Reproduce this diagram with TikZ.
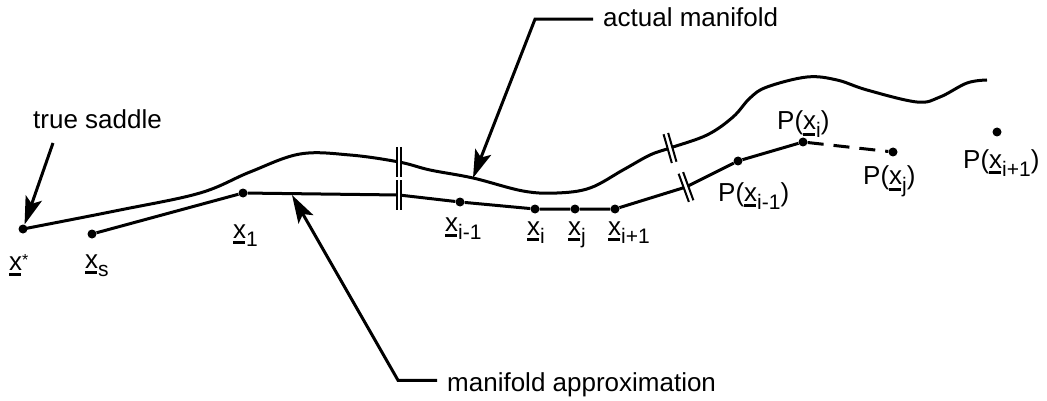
\documentclass[tikz,border=0pt]{standalone}
\usepackage{fontspec}
\setmainfont{Liberation Sans}
\usetikzlibrary{positioning, arrows.meta}

% underlined x with a lowered index
\newcommand{\ux}{\makebox[0pt][l]{\rule[-6pt]{12pt}{2.6pt}}x}
\newcommand{\vsub}[1]{\raisebox{-8pt}{\fontsize{21}{21}\selectfont #1}}
\newcommand{\vx}[1]{\ux\vsub{#1}}

\begin{document}
\begin{tikzpicture}[
  x=1pt, y=-1pt,
  font=\fontsize{26}{30}\selectfont,
  curve/.style={line width=3pt, line join=round},
  dot/.style={circle, fill, inner sep=0pt, minimum size=9pt},
  lbl/.style={anchor=base west, inner sep=0pt},
  txt/.style={anchor=base west, inner sep=0pt},
  arr/.style={-{Stealth[length=28pt, width=17pt, inset=6pt]}, line width=3pt},
  brk/.pic={
    \fill[white] (-2.4,-15) rectangle (2.4,15);
    \draw[line width=2pt] (-2.4,-15) -- (-2.4,15) (2.4,-15) -- (2.4,15);
  },
]
  \useasboundingbox (0,0) rectangle (1047,401);

  % actual manifold
  \draw[curve] plot[smooth, tension=0.6] coordinates {
    (23,229) (120,210) (200,193) (250,172) (300,154) (350,155) (399,162)
    (430,170) (473,178) (523,191) (557,193) (590,188) (623,170) (650,155)
    (670,148) (707,135) (733,117) (750,98) (767,87) (807,77) (837,80)
    (867,90) (917,102) (940,97) (967,83) (987,80)};

  % points
  \node[dot] (xstar) at (23,229) {};
  \node[dot] (xs)    at (92,234) {};
  \node[dot] (x1)    at (243,193) {};
  \node[dot] (xim)   at (460,202) {};
  \node[dot] (xi)    at (535,209) {};
  \node[dot] (xj)    at (575,209) {};
  \node[dot] (xip)   at (615,209) {};
  \node[dot] (pxim)  at (738,161) {};
  \node[dot] (pxi)   at (803,142) {};
  \node[dot] (pxj)   at (893,152) {};
  \node[dot] (pxip)  at (997,132) {};
  \coordinate (bl) at (399,195);
  \coordinate (br) at (686,187);

  % manifold approximation
  \draw[curve] (xs) -- (x1) -- (bl) -- (xim) -- (xi) -- (xj) -- (xip)
    -- (br) -- (pxim) -- (pxi);
  \draw[curve, dash pattern=on 16pt off 10pt] (pxi) -- (pxj);

  % breaks
  \pic at (399,162) {brk};
  \pic at (bl) {brk};
  \pic[rotate=16] at (670,148) {brk};
  \pic[rotate=20] at (br) {brk};

  % point labels
  \node[lbl] (lxstar) at (9,270) {\ux\raisebox{5pt}{\fontsize{16}{16}\selectfont *}};
  \node[lbl] (lxs)   at (85,268)  {\vx{s}};
  \node[lbl] (lx1)   at (233,238) {\vx{1}};
  \node[lbl] (lxim)  at (445,231) {\vx{i-1}};
  \node[lbl] (lxi)   at (527,235) {\vx{i}};
  \node[lbl] (lxj)   at (568,235) {\vx{j}};
  \node[lbl] (lxip)  at (608,235) {\vx{i+1}};
  \node[lbl] (lpxim) at (718,201) {P(\vx{i-1})};
  \node[lbl] (lpxi)  at (777,130) {P(\vx{i})};
  \node[lbl] (lpxj)  at (863,185) {P(\vx{j})};
  \node[lbl] (lpxip) at (963,168) {P(\vx{i+1})};

  % callouts
  \node[txt] (tsad)    at (33,129)  {true saddle};
  \node[txt] (amani)   at (603,27)  {actual manifold};
  \node[txt] (mapprox) at (447,391) {manifold approximation};
  \coordinate (tsadt) at (53,143);
  \coordinate (amtip) at (473,178);
  \coordinate (matip) at (292,195);

  \draw[arr] (tsadt) -- (xstar);
  \draw[arr, line join=miter] ([xshift=-10pt, yshift=-1.5pt]amani.west) -- ++(-58,0) -- (amtip);
  \draw[arr, line join=miter] ([xshift=-10pt, yshift=4pt]mapprox.west) -- ++(-39,0) -- (matip);
\end{tikzpicture}
\end{document}
